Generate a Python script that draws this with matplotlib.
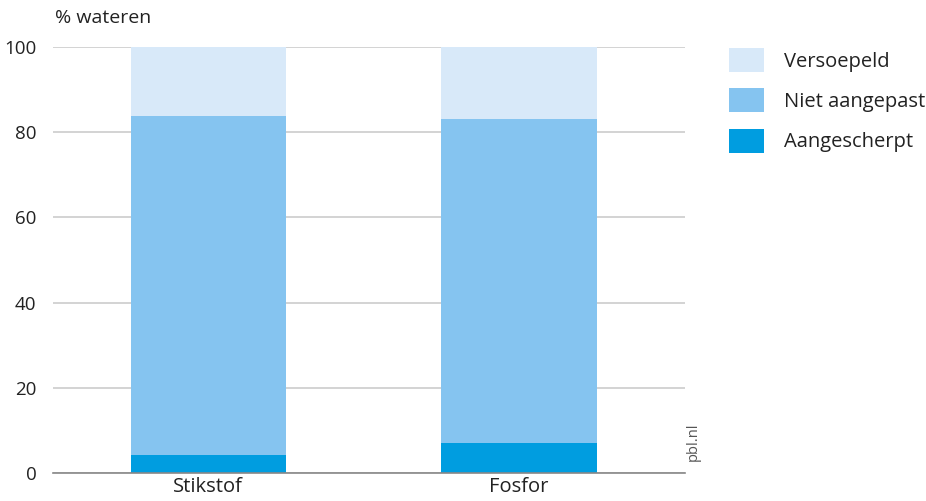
import matplotlib
matplotlib.use("Agg")
import matplotlib.pyplot as plt
from matplotlib.patches import Patch

categories = ["Stikstof", "Fosfor"]
aangescherpt = [4.2, 7.1]
niet_aangepast = [79.7, 75.9]
versoepeld = [16.1, 17.0]
series_names = ["Versoepeld", "Niet aangepast", "Aangescherpt"]
yticks = [0, 20, 40, 60, 80, 100]

c_light = "#d8e9f9"
c_mid = "#85c4f0"
c_dark = "#009de0"
text_c = "#222222"

plt.rcParams['font.family'] = ['Open Sans', 'DejaVu Sans']

fig = plt.figure(figsize=(9.26, 5.01), dpi=100)
ax = fig.add_axes([53/926, 1-473/501, (685-53)/926, (473-47)/501])

x = list(range(len(categories)))
w = 0.5
ax.bar(x, aangescherpt, width=w, color=c_dark, zorder=3)
ax.bar(x, niet_aangepast, width=w, bottom=aangescherpt, color=c_mid, zorder=3)
bottom2 = [a + b for a, b in zip(aangescherpt, niet_aangepast)]
ax.bar(x, versoepeld, width=w, bottom=bottom2, color=c_light, zorder=3)

ax.set_xlim(-0.5, 1.534)
ax.set_ylim(0, 100)
ax.set_yticks(yticks)
ax.set_yticklabels([str(v) for v in yticks], fontsize=13.5, color=text_c)
ax.set_xticks(x)
ax.set_xticklabels(categories, fontsize=14.5, color=text_c)
ax.tick_params(axis='both', length=0)
ax.tick_params(axis='y', pad=12)
ax.tick_params(axis='x', pad=3)
ax.grid(axis='y', color='#cccccc', linewidth=1.2, zorder=0)
for s in ['top', 'right', 'left']:
    ax.spines[s].set_visible(False)
ax.spines['bottom'].set_color('#888888')
ax.spines['bottom'].set_linewidth(1.2)
ax.spines['bottom'].set_zorder(4)

fig.text(55/926, 1-18/501, "% wateren", fontsize=14, color=text_c, va='center', ha='left')
fig.text(693/926, 1-442/501, "pbl.nl", fontsize=10.5, color='#555555', rotation=90, va='center', ha='center')

handles = [Patch(facecolor=c_light), Patch(facecolor=c_mid), Patch(facecolor=c_dark)]
leg = fig.legend(handles, series_names, loc='upper left', bbox_to_anchor=(729/926, 1-48/501),
                 frameon=False, fontsize=14.5, handlelength=1.74, handleheight=1.45,
                 labelspacing=0.82, handletextpad=1.0, borderpad=0, borderaxespad=0,
                 labelcolor=text_c)

fig.savefig("out.png", dpi=100)
